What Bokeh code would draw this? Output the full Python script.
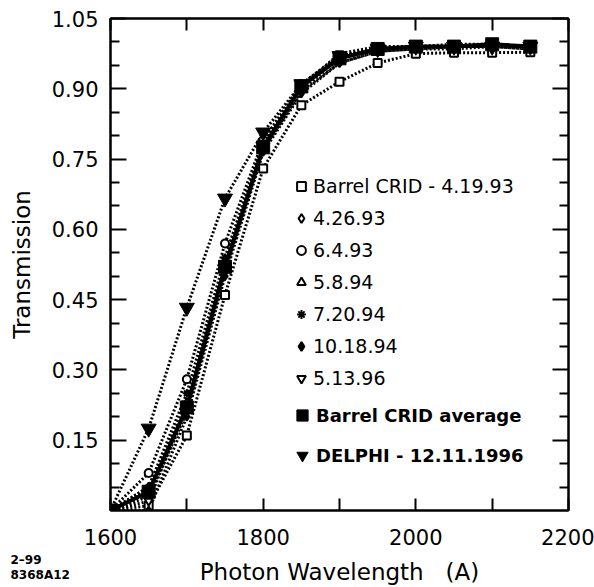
from bokeh.plotting import figure
from bokeh.models import (Range1d, LinearAxis, FixedTicker, PrintfTickFormatter,
                          Legend, LegendItem, Title)
from bokeh.embed import file_html
from bokeh.resources import INLINE

# ---------------- data ----------------
wavelength = [1600, 1650, 1700, 1750, 1800, 1850, 1900, 1950, 2000, 2050, 2100, 2150]

crid_4_19_93 = [0.00, 0.01, 0.16, 0.46, 0.73, 0.865, 0.915, 0.955, 0.975, 0.977, 0.977, 0.978]
crid_4_26_93 = [0.00, 0.03, 0.21, 0.51, 0.77, 0.895, 0.955, 0.98, 0.985, 0.985, 0.99, 0.985]
crid_6_4_93 = [0.00, 0.08, 0.28, 0.57, 0.79, 0.91, 0.97, 0.985, 0.99, 0.99, 0.99, 0.99]
crid_5_8_94 = [0.00, 0.05, 0.23, 0.53, 0.78, 0.90, 0.965, 0.985, 0.99, 0.99, 0.995, 0.99]
crid_7_20_94 = [0.00, 0.05, 0.25, 0.54, 0.785, 0.905, 0.965, 0.985, 0.99, 0.99, 0.995, 0.99]
crid_10_18_94 = [0.00, 0.00, 0.20, 0.50, 0.765, 0.89, 0.955, 0.98, 0.985, 0.99, 0.99, 0.985]
crid_5_13_96 = [0.00, 0.02, 0.22, 0.52, 0.78, 0.905, 0.975, 0.99, 0.99, 0.995, 0.995, 0.99]
crid_average = [0.00, 0.04, 0.22, 0.52, 0.775, 0.905, 0.965, 0.985, 0.99, 0.99, 0.995, 0.99]
delphi_1996 = [0.00, 0.175, 0.433, 0.666, 0.807, 0.91, 0.97, 0.985, 0.99, 0.99, 0.99, 0.99]

series_labels = ["Barrel CRID - 4.19.93", "4.26.93", "6.4.93", "5.8.94",
                 "7.20.94", "10.18.94", "5.13.96"]
series_values = [crid_4_19_93, crid_4_26_93, crid_6_4_93, crid_5_8_94,
                 crid_7_20_94, crid_10_18_94, crid_5_13_96]
series_markers = ["square", "diamond", "circle", "triangle",
                  "asterisk", "diamond", "inverted_triangle"]
series_fills = ["white", "white", "white", "white", "black", "black", "white"]

average_label = "Barrel CRID average"
delphi_label = "DELPHI - 12.11.1996"

x_major_ticks = [1600, 1800, 2000, 2200]
x_minor_ticks = [1700, 1900, 2100]
x_all_ticks = [1600, 1700, 1800, 1900, 2000, 2100, 2200]
y_major_ticks = [0.15, 0.30, 0.45, 0.60, 0.75, 0.90, 1.05]
y_minor_ticks = [0.05, 0.10, 0.20, 0.25, 0.35, 0.40, 0.50, 0.55, 0.65, 0.70,
                 0.80, 0.85, 0.95, 1.00]

FONT = "DejaVu Sans"
NB = "\u00a0"
x_title = "Photon" + NB + "Wavelength" + NB * 3 + "(A)"
y_title = "Transmission"
figure_date = "2\u201399"
figure_code = "8368A12"

# ---------------- figure ----------------
p = figure(width=594, height=587, output_backend="svg", toolbar_location=None,
           x_range=Range1d(1600, 2200), y_range=Range1d(0, 1.05),
           y_axis_label=y_title,
           min_border_left=110, min_border_right=26, min_border_top=18,
           min_border_bottom=77)
p.background_fill_color = "white"
p.border_fill_color = "white"
p.outline_line_color = "black"
p.outline_line_width = 2
p.xgrid.visible = False
p.ygrid.visible = False

xa = p.xaxis[0]
xa.ticker = FixedTicker(ticks=x_major_ticks, minor_ticks=x_minor_ticks)
ya = p.yaxis[0]
ya.ticker = FixedTicker(ticks=y_major_ticks, minor_ticks=y_minor_ticks)
ya.formatter = PrintfTickFormatter(format="%.2f")

for ax in (xa, ya):
    ax.axis_line_width = 2
    ax.major_tick_line_width = 2
    ax.minor_tick_line_width = 2
    ax.major_tick_out = 0
    ax.minor_tick_out = 0
    ax.major_label_text_font = FONT
    ax.major_label_text_font_size = "21px"
    ax.major_label_text_color = "black"
    ax.axis_label_text_font = FONT
    ax.axis_label_text_font_size = "23px"
    ax.axis_label_text_font_style = "normal"
    ax.axis_label_text_color = "black"

xa.major_tick_in = 12
xa.minor_tick_in = 12
xa.major_label_standoff = 18
ya.major_tick_in = 16
ya.minor_tick_in = 9
ya.major_label_standoff = 12
ya.axis_label_standoff = 14

top_axis = LinearAxis(ticker=FixedTicker(ticks=x_all_ticks, minor_ticks=[]))
top_axis.major_label_overrides = {t: "" for t in x_all_ticks}
right_axis = LinearAxis(ticker=FixedTicker(ticks=y_major_ticks, minor_ticks=y_minor_ticks))
right_axis.major_label_overrides = {t: "" for t in y_major_ticks}
for ax, tin, mtin in ((top_axis, 12, 0), (right_axis, 16, 9)):
    ax.axis_line_width = 2
    ax.major_tick_line_width = 2
    ax.minor_tick_line_width = 2
    ax.major_tick_out = 0
    ax.minor_tick_out = 0
    ax.major_tick_in = tin
    ax.minor_tick_in = mtin
    ax.major_label_text_font_size = "0px"
    ax.major_label_standoff = 0
p.add_layout(top_axis, "above")
p.add_layout(right_axis, "right")

# ---------------- texts below the axis ----------------
t_date = Title(text=figure_date, align="left", vertical_align="middle", offset=-100,
               standoff=8, text_font=FONT, text_font_size="12px",
               text_font_style="bold", text_color="black")
t_xlabel = Title(text=x_title, align="center", vertical_align="middle",
                 standoff=-29, text_font=FONT, text_font_size="23px",
                 text_font_style="normal", text_color="black")
t_code = Title(text=figure_code, align="left", vertical_align="middle", offset=-100,
               standoff=-10, text_font=FONT, text_font_size="12px",
               text_font_style="bold", text_color="black")
p.add_layout(t_date, "below")
p.add_layout(t_xlabel, "below")
p.add_layout(t_code, "below")

# ---------------- curves ----------------
marker_renderers = []
for vals in series_values:
    p.line(wavelength, vals, line_color="black", line_width=3, line_dash="2 2")
p.line(wavelength, delphi_1996, line_color="black", line_width=3, line_dash="2 2")
p.line(wavelength, crid_average, line_color="black", line_width=4)

for vals, mk, fc in zip(series_values, series_markers, series_fills):
    r = p.scatter(wavelength, vals, marker=mk, size=8, fill_color=fc,
                  line_color="black", line_width=2)
    marker_renderers.append(r)

avg_r = p.scatter(wavelength, crid_average, marker="square", size=13,
                  fill_color="black", line_color="black")
del_r = p.scatter(wavelength, delphi_1996, marker="inverted_triangle", size=15,
                  fill_color="black", line_color="black")

# ---------------- legends ----------------
leg1 = Legend(items=[LegendItem(label=lab, renderers=[r])
                     for lab, r in zip(series_labels, marker_renderers)],
              location=(180, 121))
leg1.label_text_font = FONT
leg1.label_text_font_size = "19px"
leg1.label_text_color = "black"
leg1.glyph_width = 22
leg1.glyph_height = 22
leg1.label_height = 22
leg1.spacing = 10
leg1.padding = 0
leg1.margin = 0
leg1.label_standoff = 1
leg1.border_line_alpha = 0
leg1.background_fill_alpha = 0
p.add_layout(leg1)

leg2 = Legend(items=[LegendItem(label=average_label, renderers=[avg_r]),
                     LegendItem(label=delphi_label, renderers=[del_r])],
              location=(178, 39))
leg2.label_text_font = FONT
leg2.label_text_font_size = "18px"
leg2.label_text_font_style = "bold"
leg2.label_text_color = "black"
leg2.glyph_width = 28
leg2.glyph_height = 32
leg2.label_height = 32
leg2.spacing = 8
leg2.padding = 0
leg2.margin = 0
leg2.label_standoff = 0
leg2.border_line_alpha = 0
leg2.background_fill_alpha = 0
p.add_layout(leg2)

open("out.html", "w").write(file_html(p, INLINE))
